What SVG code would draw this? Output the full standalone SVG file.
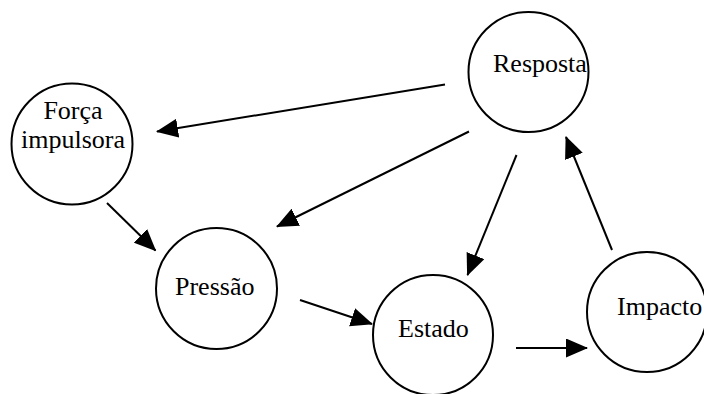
<svg xmlns="http://www.w3.org/2000/svg" width="704" height="394" viewBox="0 0 704 394">
<style>
.node circle{fill:#fff;stroke:#000;stroke-width:2}
.node text{font-family:"Liberation Serif","Times New Roman",serif;font-size:26px;fill:#000}
.edge{stroke:#000;stroke-width:2;fill:none;marker-end:url(#ah)}
</style>
<defs>
<marker id="ah" markerUnits="userSpaceOnUse" markerWidth="22" markerHeight="19" refX="21" refY="9.5" orient="auto">
<path d="M0,0 L22,9.5 L0,19 z" fill="#000"/>
</marker>
</defs>
<rect width="704" height="394" fill="#fff"/>
<g id="forca" class="node">
<circle cx="72" cy="144" r="60.5"/>
<text x="73" y="119" text-anchor="middle">Força</text>
<text x="73" y="148" text-anchor="middle">impulsora</text>
</g>
<g id="resposta" class="node">
<circle cx="528.5" cy="72" r="60"/>
<text x="493" y="72">Resposta</text>
</g>
<g id="pressao" class="node">
<circle cx="216.5" cy="288.5" r="60.5"/>
<text x="175" y="295">Pressão</text>
</g>
<g id="estado" class="node">
<circle cx="433" cy="335" r="60"/>
<text x="398" y="337">Estado</text>
</g>
<g id="impacto" class="node">
<circle cx="647" cy="312" r="60"/>
<text x="617" y="315">Impacto</text>
</g>
<g id="connectors">
<line class="edge" x1="445" y1="84.5" x2="157" y2="131.5"/>
<line class="edge" x1="469" y1="131.5" x2="277" y2="226.5"/>
<line class="edge" x1="516.5" y1="155" x2="467.5" y2="275"/>
<line class="edge" x1="612" y1="250" x2="566" y2="137"/>
<line class="edge" x1="107" y1="203" x2="155.5" y2="250.5"/>
<line class="edge" x1="300" y1="300" x2="372" y2="324"/>
<line class="edge" x1="516" y1="348" x2="587" y2="348"/>
</g>
</svg>
